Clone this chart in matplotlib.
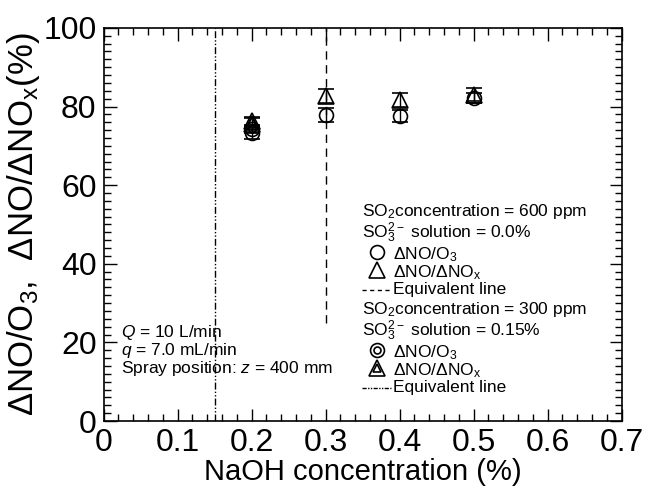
import matplotlib
matplotlib.use("Agg")
import matplotlib.pyplot as plt
from matplotlib.ticker import MultipleLocator

plt.rcParams['font.family'] = ['Liberation Sans', 'DejaVu Sans']
plt.rcParams['mathtext.fontset'] = 'custom'
plt.rcParams['mathtext.rm'] = 'Liberation Sans'
plt.rcParams['mathtext.it'] = 'Liberation Sans:italic'

# Data
naoh = [0.2, 0.3, 0.4, 0.5]
o3_600 = [73.2, 77.9, 77.6, 82.2]
o3_600_err = [1.5, 1.8, 1.6, 1.2]
nox_600 = [75.5, 82.7, 81.6, 83.0]
nox_600_err = [1.5, 1.8, 1.8, 1.6]
naoh_300 = [0.2]
o3_300 = [74.2]
o3_300_err = [1.0]
nox_300 = [76.2]
nox_300_err = [1.2]
equiv_600 = 0.3
equiv_600_range = [25, 100]
equiv_300 = 0.15
equiv_300_range = [0, 100]

fig = plt.figure(figsize=(6.51, 4.98), dpi=100)
ax = fig.add_axes([0.159, 0.1546, 0.796, 0.7894])

ax.set_xlim(0, 0.7)
ax.set_ylim(0, 100)

# equivalent lines
ax.plot([equiv_600, equiv_600], equiv_600_range, color='black', lw=1.0,
        linestyle=(0, (6, 4)))
ax.plot([equiv_300, equiv_300], equiv_300_range, color='black', lw=1.0,
        linestyle=(0, (5, 1.5, 1, 1.5, 1, 1.5)))

ms = 10
ekw = dict(mfc='none', mec='black', mew=1.2, ecolor='black', elinewidth=1.0,
           capsize=6, capthick=1.0)
# 600 ppm series
ax.errorbar(naoh, o3_600, yerr=o3_600_err, fmt='o', ms=ms, **ekw)
ax.errorbar(naoh, nox_600, yerr=nox_600_err, fmt='^', ms=ms + 1, **ekw)
# 300 ppm series (double markers)
ax.errorbar(naoh_300, o3_300, yerr=o3_300_err, fmt='o', ms=ms, **ekw)
ax.plot(naoh_300, o3_300, 'o', mfc='none', mec='black', ms=5, mew=1.2)
ax.errorbar(naoh_300, nox_300, yerr=nox_300_err, fmt='^', ms=ms + 1, **ekw)
ax.plot(naoh_300, nox_300, '^', mfc='none', mec='black', ms=5.5, mew=1.2)

# ticks
ax.xaxis.set_major_locator(MultipleLocator(0.1))
ax.xaxis.set_minor_locator(MultipleLocator(0.02))
ax.yaxis.set_major_locator(MultipleLocator(20))
ax.yaxis.set_minor_locator(MultipleLocator(2))
ax.tick_params(which='both', direction='in', top=True, right=True)
ax.tick_params(which='major', length=9, width=1.0, labelsize=23, pad=5)
ax.tick_params(which='minor', length=5, width=1.0)
ax.set_xticks([0, 0.1, 0.2, 0.3, 0.4, 0.5, 0.6, 0.7])
ax.set_xticklabels(['0', '0.1', '0.2', '0.3', '0.4', '0.5', '0.6', '0.7'])
for s in ax.spines.values():
    s.set_linewidth(1.2)

ax.set_xlabel('NaOH concentration (%)', fontsize=21, labelpad=0)
ax.set_ylabel(r'ΔNO/O$_3$,  ΔNO/ΔNO$_\mathregular{x}$(%)', fontsize=25, labelpad=1)

# condition annotation
fs = 12.5
def fx(px):
    return (px - 103.5) / 518.5
def fy(py):
    return (421 - py) / 393.0

ax.text(fx(121), fy(333), r'$\it{Q}$ = 10 L/min', transform=ax.transAxes, fontsize=fs, va='center')
ax.text(fx(121), fy(351), r'$\it{q}$ = 7.0 mL/min', transform=ax.transAxes, fontsize=fs, va='center')
ax.text(fx(121), fy(369), r'Spray position: $\it{z}$ = 400 mm', transform=ax.transAxes, fontsize=fs, va='center')

# legend block (manual)
tx = fx(362)
mx = fx(377)
lx = fx(393)
ax.text(tx, fy(212), r'SO$_2$concentration = 600 ppm', transform=ax.transAxes, fontsize=fs, va='center')
ax.text(tx, fy(233), r'SO$_3^{2-}$ solution = 0.0%', transform=ax.transAxes, fontsize=fs, va='center')
ax.plot([mx], [fy(252)], 'o', mfc='none', mec='black', ms=ms, mew=1.2, transform=ax.transAxes, clip_on=False)
ax.text(lx, fy(255), r'ΔNO/O$_3$', transform=ax.transAxes, fontsize=fs, va='center')
ax.plot([mx], [fy(270)], '^', mfc='none', mec='black', ms=ms + 1, mew=1.2, transform=ax.transAxes, clip_on=False)
ax.text(lx, fy(273), r'ΔNO/ΔNO$_\mathregular{x}$', transform=ax.transAxes, fontsize=fs, va='center')
ax.plot([fx(362), fx(391)], [fy(290), fy(290)], color='black', lw=1.0, linestyle=(0, (3, 2.5)),
        transform=ax.transAxes)
ax.text(lx, fy(290), 'Equivalent line', transform=ax.transAxes, fontsize=fs, va='center')

ax.text(tx, fy(310), r'SO$_2$concentration = 300 ppm', transform=ax.transAxes, fontsize=fs, va='center')
ax.text(tx, fy(331), r'SO$_3^{2-}$ solution = 0.15%', transform=ax.transAxes, fontsize=fs, va='center')
ax.plot([mx], [fy(350)], 'o', mfc='none', mec='black', ms=ms, mew=1.2, transform=ax.transAxes)
ax.plot([mx], [fy(350)], 'o', mfc='none', mec='black', ms=5, mew=1.2, transform=ax.transAxes)
ax.text(lx, fy(353), r'ΔNO/O$_3$', transform=ax.transAxes, fontsize=fs, va='center')
ax.plot([mx], [fy(368)], '^', mfc='none', mec='black', ms=ms + 1, mew=1.2, transform=ax.transAxes)
ax.plot([mx], [fy(368)], '^', mfc='none', mec='black', ms=5.5, mew=1.2, transform=ax.transAxes)
ax.text(lx, fy(371), r'ΔNO/ΔNO$_\mathregular{x}$', transform=ax.transAxes, fontsize=fs, va='center')
ax.plot([fx(362), fx(391)], [fy(388), fy(388)], color='black', lw=1.0,
        linestyle=(0, (3, 1, 1, 1, 1, 1)), transform=ax.transAxes)
ax.text(lx, fy(388), 'Equivalent line', transform=ax.transAxes, fontsize=fs, va='center')

fig.savefig('out.png', dpi=100)
